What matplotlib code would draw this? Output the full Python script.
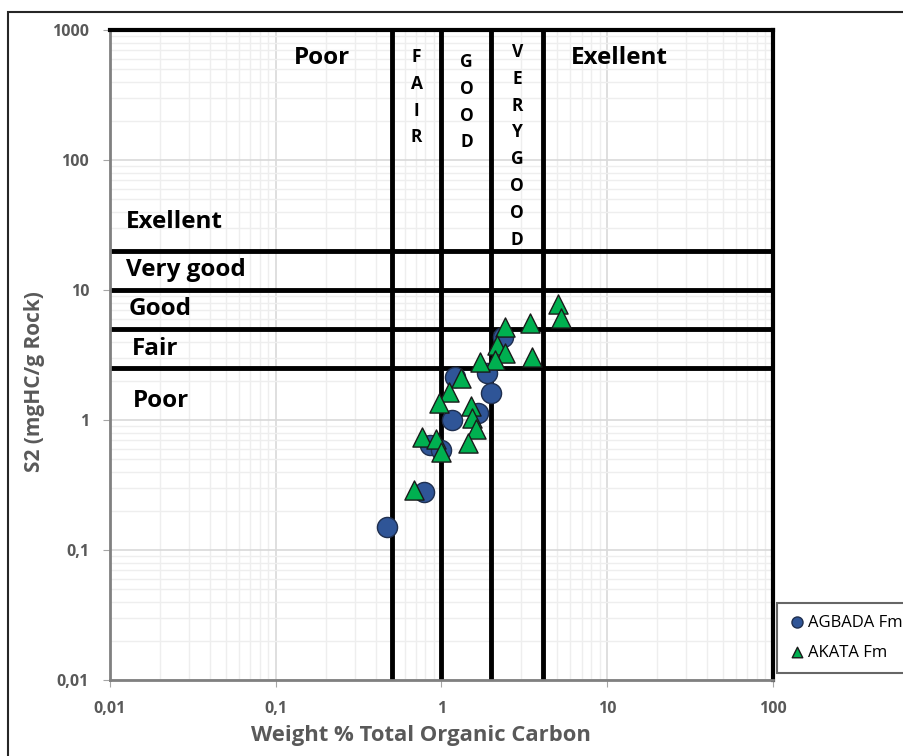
import numpy as np
import matplotlib
matplotlib.use('Agg')
import matplotlib.pyplot as plt
from matplotlib.ticker import LogLocator, FixedLocator, NullFormatter
from matplotlib.patches import Rectangle

plt.rcParams['font.family'] = ['Open Sans', 'DejaVu Sans']

# TOC (wt%) and S2 (mgHC/g rock)
agbada_toc = [0.47, 0.78, 0.85, 1.00, 1.15, 1.21, 1.67, 1.87, 1.98, 2.36]
agbada_s2 = [0.15, 0.28, 0.64, 0.59, 1.00, 2.15, 1.13, 2.29, 1.60, 4.37]

akata_toc = [5.07, 5.26, 3.42, 2.42, 2.15, 2.42, 3.50, 2.10, 1.71, 1.31,
             1.11, 0.97, 1.51, 1.52, 1.61, 1.45, 0.76, 0.93, 0.99, 0.68]
akata_s2 = [7.80, 6.05, 5.61, 5.16, 3.77, 3.26, 3.03, 2.90, 2.80, 2.10,
            1.65, 1.36, 1.28, 1.03, 0.85, 0.67, 0.74, 0.71, 0.57, 0.29]

# class limits
toc_limits = [0.5, 1, 2, 4.1]
s2_limits = [2.5, 5, 10, 20]

x_ticks = [0.01, 0.1, 1, 10, 100]
x_tick_labels = ['0,01', '0,1', '1', '10', '100']
y_ticks = [0.01, 0.1, 1, 10, 100, 1000]
y_tick_labels = ['0,01', '0,1', '1', '10', '100', '1000']

toc_classes = [('FAIR', 0.707, 27), ('GOOD', 1.414, 32), ('VERYGOOD', 2.86, 22)]
s2_classes = [('Exellent', 33.4, 126), ('Very good', 14.3, 126), ('Good', 7.14, 129),
              ('Fair', 3.52, 132), ('Poor', 1.40, 133)]

fig = plt.figure(figsize=(9.04, 7.56), dpi=100)
ax = fig.add_axes([110/904, 1 - 680/756, 663/904, 650/756])

ax.set_xscale('log')
ax.set_yscale('log')
ax.set_xlim(0.01, 100)
ax.set_ylim(0.01, 1000)

ax.xaxis.set_major_locator(FixedLocator(x_ticks))
ax.set_xticklabels(x_tick_labels)
ax.yaxis.set_major_locator(FixedLocator(y_ticks))
ax.set_yticklabels(y_tick_labels)
ax.xaxis.set_minor_locator(LogLocator(base=10, subs=np.arange(2, 10), numticks=20))
ax.yaxis.set_minor_locator(LogLocator(base=10, subs=np.arange(2, 10), numticks=20))
ax.xaxis.set_minor_formatter(NullFormatter())
ax.yaxis.set_minor_formatter(NullFormatter())

ax.grid(True, which='major', color='#d9d9d9', lw=1.2)
ax.grid(True, which='minor', color='#eeeeee', lw=1.0)
ax.set_axisbelow(True)

for lbl in ax.get_xticklabels() + ax.get_yticklabels():
    lbl.set_color('#595959')
    lbl.set_fontweight('bold')
    lbl.set_fontsize(11.5)
ax.tick_params(which='major', length=5, color='#a6a6a6', pad=10)
ax.tick_params(which='minor', length=0)

ax.spines['left'].set_color('#808080')
ax.spines['bottom'].set_color('#808080')
ax.spines['left'].set_linewidth(2)
ax.spines['bottom'].set_linewidth(2)
ax.spines['top'].set_color('black')
ax.spines['right'].set_color('black')
ax.spines['top'].set_linewidth(3)
ax.spines['right'].set_linewidth(3)

for v in toc_limits:
    ax.axvline(v, color='black', lw=3.5, zorder=2)
for v in s2_limits:
    ax.axhline(v, color='black', lw=3.5, zorder=2)

ax.scatter(agbada_toc, agbada_s2, marker='o', s=210, c='#2f5597',
           edgecolors='#1f2f4f', linewidths=1.0, zorder=3, label='AGBADA Fm')
ax.scatter(akata_toc, akata_s2, marker='^', s=190, c='#00b050',
           edgecolors='#1a1a1a', linewidths=1.0, zorder=4, label='AKATA Fm')

# TOC classes along the top
for name, xc in [('Poor', 0.19), ('Exellent', 11.9)]:
    ax.annotate(name, xy=(xc, 1), xycoords=('data', 'axes fraction'),
                xytext=(0, -28), textcoords='offset pixels', ha='center', va='center',
                fontsize=17.5, fontweight='bold')
for word, xc, start in toc_classes:
    for i, ch in enumerate(word):
        ax.annotate(ch, xy=(xc, 1), xycoords=('data', 'axes fraction'),
                    xytext=(0, -(start + i * 26.8)), textcoords='offset pixels',
                    ha='center', va='center', fontsize=12.5, fontweight='bold')

# S2 classes on the left
for name, yc, xpix in s2_classes:
    ax.annotate(name, xy=(0, yc), xycoords=('axes fraction', 'data'),
                xytext=(xpix - 110, 0), textcoords='offset pixels',
                ha='left', va='center', fontsize=17.5, fontweight='bold')

fig.text(421/904, 1 - 736/756, 'Weight % Total Organic Carbon', ha='center', va='center',
         fontsize=15.8, fontweight='bold', color='#595959')
fig.text(35/904, 1 - 382/756, 'S2 (mgHC/g Rock)', ha='center', va='center',
         rotation=90, fontsize=15, fontweight='bold', color='#595959')

leg = fig.legend(loc='upper left', bbox_to_anchor=(777/904, 1 - 603/756),
                 fontsize=12, frameon=True, fancybox=False, edgecolor='#404040',
                 markerscale=0.55, handletextpad=0.15, handlelength=1.0,
                 labelspacing=0.85, borderpad=0.7, borderaxespad=0)
leg.get_frame().set_linewidth(1.5)

# outer frame
fig.patches.append(Rectangle((8/904, -0.1), 1.2, 1.1 - 12/756, transform=fig.transFigure,
                             fill=False, edgecolor='#262626', lw=1.5))

fig.savefig('out.png', dpi=100)
